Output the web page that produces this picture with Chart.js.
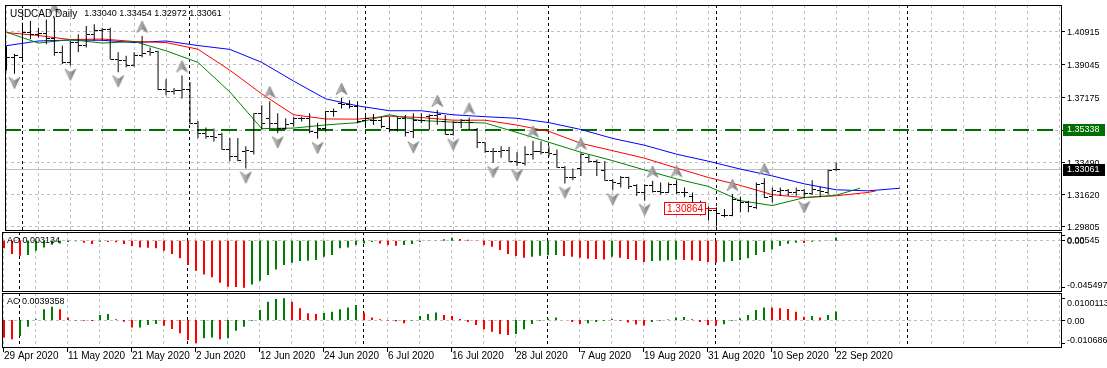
<!DOCTYPE html>
<html>
<head>
<meta charset="utf-8">
<title>USDCAD Daily</title>
<script src="https://cdn.jsdelivr.net/npm/chart.js@4.4.1/dist/chart.umd.min.js"></script>
<style>
    body { margin: 0; background: #ffffff; }
    #wrap { position: relative; width: 1107px; height: 368px; }
    #wrap canvas { position: absolute; left: 0; top: 0; }
</style>
</head>
<body>
<div id="wrap">
    <canvas id="priceChart" width="1107" height="368"></canvas>
    <canvas id="aoChart" width="1107" height="368"></canvas>
    <canvas id="acChart" width="1107" height="368"></canvas>
</div>
<script>

// DATA

const symbol = "USDCAD";
const period = "Daily";

const dateTicks = [
    "29 Apr 2020", "11 May 2020", "21 May 2020", "2 Jun 2020", "12 Jun 2020",
    "24 Jun 2020", "6 Jul 2020", "16 Jul 2020", "28 Jul 2020", "7 Aug 2020",
    "19 Aug 2020", "31 Aug 2020", "10 Sep 2020", "22 Sep 2020"
];

const priceTicks = [1.40915, 1.39045, 1.37175, 1.35305, 1.33490, 1.31620, 1.29805];
const aoTicks = [0.00545, 0, -0.045497];
const acTicks = [0.0100113, 0, -0.010686];

const opens = [
    1.3881, 1.3947, 1.3947, 1.4088, 1.4078, 1.4082, 1.4054, 1.3975, 1.3919, 1.4031,
    1.4016, 1.4078, 1.4097, 1.4107, 1.3937, 1.3928, 1.3900, 1.3956, 1.3980, 1.3979,
    1.3764, 1.3753, 1.3759, 1.3764, 1.3571, 1.3514, 1.3496, 1.3508, 1.3420, 1.3382,
    1.3410, 1.3410, 1.3627, 1.3595, 1.3571, 1.3542, 1.3567, 1.3599, 1.3599, 1.3520,
    1.3542, 1.3636, 1.3683, 1.3678, 1.3665, 1.3584, 1.3589, 1.3589, 1.3542, 1.3533,
    1.3599, 1.3523, 1.3589, 1.3609, 1.3614, 1.3580, 1.3505, 1.3577, 1.3584, 1.3533,
    1.3458, 1.3411, 1.3411, 1.3415, 1.3355, 1.3340, 1.3392, 1.3411, 1.3402, 1.3392,
    1.3321, 1.3261, 1.3313, 1.3374, 1.3355, 1.3302, 1.3242, 1.3227, 1.3261, 1.3213,
    1.3176, 1.3213, 1.3181, 1.3176, 1.3223, 1.3176, 1.3151, 1.3119, 1.3082, 1.3072,
    1.3044, 1.3044, 1.3129, 1.3119, 1.3091, 1.3227, 1.3151, 1.3181, 1.3185, 1.3176,
    1.3185, 1.3170, 1.3189, 1.3176, 1.33040
];

const highs = [
    1.4013, 1.3966, 1.4144, 1.4154, 1.4116, 1.4163, 1.4175, 1.4013, 1.4041, 1.4078,
    1.4125, 1.4135, 1.4116, 1.4116, 1.3975, 1.3956, 1.3975, 1.4069, 1.4003, 1.3984,
    1.3821, 1.3772, 1.3843, 1.3806, 1.3584, 1.3547, 1.3540, 1.3516, 1.3486, 1.3486,
    1.3439, 1.3627, 1.3674, 1.3696, 1.3627, 1.3599, 1.3608, 1.3608, 1.3627, 1.3574,
    1.3640, 1.3655, 1.3715, 1.3702, 1.3696, 1.3618, 1.3623, 1.3608, 1.3608, 1.3608,
    1.3618, 1.3627, 1.3627, 1.3622, 1.3646, 1.3618, 1.3580, 1.3595, 1.3603, 1.3543,
    1.3462, 1.3430, 1.3439, 1.3436, 1.3406, 1.3439, 1.3471, 1.3468, 1.3439, 1.3421,
    1.3327, 1.3313, 1.3402, 1.3389, 1.3364, 1.3355, 1.3251, 1.3270, 1.3265, 1.3223,
    1.3223, 1.3242, 1.3232, 1.3232, 1.3245, 1.3204, 1.3176, 1.3129, 1.3095, 1.3091,
    1.3082, 1.3166, 1.3151, 1.3129, 1.3232, 1.3257, 1.3204, 1.3204, 1.3195, 1.3204,
    1.3195, 1.3245, 1.3208, 1.3307, 1.33454
];

const lows = [
    1.3872, 1.3853, 1.3937, 1.4050, 1.4060, 1.4022, 1.3956, 1.3909, 1.3900, 1.3975,
    1.4003, 1.4041, 1.4041, 1.3934, 1.3862, 1.3890, 1.3895, 1.3947, 1.3956, 1.3759,
    1.3731, 1.3734, 1.3712, 1.3565, 1.3486, 1.3482, 1.3467, 1.3420, 1.3354, 1.3354,
    1.3313, 1.3392, 1.3533, 1.3542, 1.3514, 1.3533, 1.3552, 1.3580, 1.3514, 1.3482,
    1.3523, 1.3608, 1.3655, 1.3655, 1.3571, 1.3552, 1.3561, 1.3542, 1.3520, 1.3523,
    1.3495, 1.3486, 1.3571, 1.3533, 1.3562, 1.3505, 1.3501, 1.3543, 1.3533, 1.3430,
    1.3402, 1.3345, 1.3374, 1.3351, 1.3327, 1.3330, 1.3364, 1.3392, 1.3383, 1.3317,
    1.3227, 1.3246, 1.3270, 1.3345, 1.3270, 1.3242, 1.3189, 1.3204, 1.3195, 1.3157,
    1.3129, 1.3176, 1.3166, 1.3172, 1.3166, 1.3148, 1.3110, 1.3044, 1.3016, 1.2982,
    1.3035, 1.3040, 1.3063, 1.3063, 1.3082, 1.3144, 1.3119, 1.3157, 1.3157, 1.3157,
    1.3144, 1.3163, 1.3148, 1.3166, 1.32972
];

const closes = [
    1.3947, 1.3956, 1.4088, 1.4078, 1.4082, 1.4054, 1.3975, 1.3919, 1.4031, 1.4016,
    1.4078, 1.4097, 1.4107, 1.3937, 1.3928, 1.3900, 1.3956, 1.3966, 1.3975, 1.3764,
    1.3749, 1.3759, 1.3764, 1.3571, 1.3514, 1.3496, 1.3492, 1.3420, 1.3382, 1.3358,
    1.3414, 1.3627, 1.3571, 1.3571, 1.3542, 1.3561, 1.3595, 1.3599, 1.3523, 1.3542,
    1.3636, 1.3640, 1.3678, 1.3665, 1.3580, 1.3595, 1.3589, 1.3552, 1.3533, 1.3599,
    1.3520, 1.3589, 1.3584, 1.3614, 1.3618, 1.3509, 1.3577, 1.3584, 1.3577, 1.3458,
    1.3411, 1.3411, 1.3415, 1.3355, 1.3345, 1.3392, 1.3411, 1.3402, 1.3396, 1.3321,
    1.3261, 1.3261, 1.3392, 1.3355, 1.3345, 1.3246, 1.3233, 1.3261, 1.3208, 1.3176,
    1.3213, 1.3181, 1.3176, 1.3223, 1.3176, 1.3176, 1.3119, 1.3082, 1.3072, 1.3054,
    1.3044, 1.3138, 1.3119, 1.3095, 1.3223, 1.3148, 1.3185, 1.3185, 1.3176, 1.3185,
    1.3170, 1.3195, 1.3181, 1.3302, 1.33061
];

// alligator lines, [bar, price]
const jaw = [
    [0, 1.4013], [4, 1.4040], [8, 1.4045], [12, 1.4044], [16, 1.4031], [20, 1.4040],
    [24, 1.4014], [28, 1.3992], [32, 1.3918], [36, 1.3811], [40, 1.3710], [44, 1.3670],
    [48, 1.3642], [52, 1.3642], [56, 1.3619], [60, 1.3608], [64, 1.3599], [68, 1.3574],
    [72, 1.3535], [76, 1.3484], [80, 1.3445], [84, 1.3394], [88, 1.3354], [92, 1.3309],
    [96, 1.3270], [100, 1.3225], [104, 1.3191], [108, 1.3185], [112, 1.3200]
];

const teeth = [
    [0, 1.4088], [4, 1.4071], [8, 1.4048], [12, 1.4051], [16, 1.4037], [20, 1.4031],
    [24, 1.3993], [28, 1.3873], [32, 1.3738], [36, 1.3619], [40, 1.3595], [44, 1.3594],
    [48, 1.3611], [52, 1.3603], [56, 1.3588], [60, 1.3588], [64, 1.3560], [68, 1.3524],
    [72, 1.3456], [76, 1.3414], [80, 1.3371], [84, 1.3315], [88, 1.3261], [92, 1.3216],
    [96, 1.3163], [100, 1.3147], [104, 1.3157], [108, 1.3176], [109, 1.3185]
];

const lips = [
    [0, 1.4090], [4, 1.4028], [8, 1.4048], [12, 1.4028], [16, 1.4037], [20, 1.3984],
    [24, 1.3918], [28, 1.3749], [32, 1.3540], [36, 1.3543], [40, 1.3561], [44, 1.3574],
    [48, 1.3619], [52, 1.3586], [56, 1.3577], [60, 1.3572], [64, 1.3518], [68, 1.3462],
    [72, 1.3405], [76, 1.3357], [80, 1.3304], [84, 1.3253], [88, 1.3210], [92, 1.3129],
    [96, 1.3101], [100, 1.3146], [104, 1.3160], [107, 1.3200]
];

const fractalUp = [6, 17, 22, 33, 42, 54, 58, 66, 72, 81, 84, 91, 95];
const fractalDown = [1, 8, 14, 30, 34, 39, 51, 56, 61, 64, 70, 76, 80, 89, 100];

const ao = [
    -0.0074, -0.0129, -0.0145, -0.0139, -0.0097, -0.0065, -0.0039, -0.0026, -0.0013, -0.0006,
    -0.0019, -0.0032, -0.0010, -0.0013, -0.0016, -0.0032, -0.0052, -0.0065, -0.0068, -0.0074,
    -0.0097, -0.0129, -0.0171, -0.0236, -0.0291, -0.0326, -0.0355, -0.0407, -0.0446, -0.0449,
    -0.045497, -0.0423, -0.0388, -0.0333, -0.0278, -0.0236, -0.0213, -0.0197, -0.0194, -0.0187,
    -0.0155, -0.0139, -0.0074, -0.0065, -0.0042, -0.0026, -0.0013, -0.0026, -0.0042, -0.0048,
    -0.0042, -0.0032, -0.0013, -0.0003, 0.0003, 0.0013, 0.0029, 0.0016, 0.0010, -0.0003,
    -0.0042, -0.0058, -0.0090, -0.0129, -0.0149, -0.0165, -0.0155, -0.0145, -0.0142, -0.0139,
    -0.0149, -0.0155, -0.0165, -0.0174, -0.0178, -0.0181, -0.0155, -0.0165, -0.0178, -0.0187,
    -0.0207, -0.0197, -0.0194, -0.0190, -0.0184, -0.0187, -0.0190, -0.0197, -0.0207, -0.0213,
    -0.0203, -0.0197, -0.0187, -0.0171, -0.0139, -0.0110, -0.0084, -0.0052, -0.0029, -0.0019,
    -0.0023, -0.0010, -0.0006, -0.0003, 0.003134
];

const ac = [
    -0.0080, -0.0089, -0.0074, -0.0031, 0.0003, 0.0049, 0.0061, 0.0049, 0.0012, -0.0002,
    -0.0003, -0.0005, 0.0023, 0.0028, 0.0003, -0.0008, -0.0035, -0.0034, -0.0023, -0.0018,
    -0.0026, -0.0041, -0.0061, -0.0092, -0.010686, -0.0084, -0.0080, -0.0089, -0.0084, -0.0049,
    -0.0031, -0.0003, 0.0046, 0.0084, 0.0097, 0.0100113, 0.0084, 0.0054, 0.0031, 0.0028,
    0.0032, 0.0038, 0.0049, 0.0058, 0.0069, 0.0034, 0.0012, 0.0003, -0.0002, -0.0006,
    -0.0015, -0.0002, 0.0018, 0.0028, 0.0034, 0.0023, 0.0018, 0.0005, -0.0009, -0.0023,
    -0.0043, -0.0054, -0.0064, -0.0069, -0.0064, -0.0043, -0.0018, -0.0003, 0.0006, 0.0012,
    0.0000, -0.0009, -0.0018, -0.0015, -0.0009, -0.0003, 0.0005, -0.0003, -0.0012, -0.0021,
    -0.0025, -0.0009, -0.0003, 0.0002, 0.0012, 0.0014, 0.0003, -0.0009, -0.0023, -0.0025,
    -0.0020, -0.0003, 0.0008, 0.0023, 0.0046, 0.0058, 0.0057, 0.0054, 0.0051, 0.0038,
    0.0015, 0.0018, 0.0012, 0.0023, 0.0039358
];

const monthStarts = [2, 23, 45, 68, 89, 113];
const levelLine = 1.35338;
const markPrice = 1.30864;
const markBar = 88;


// LOOK

const FONT = '10px "Liberation Sans", Arial, sans-serif';
const NUM_FONT = '9px "Liberation Sans", Arial, sans-serif';
const GRID = "#c0c0c0";
const UP = "#008000";
const DOWN = "#ff0000";
const gridStep = 4;
const dateStep = 8;
const arrowGap = 9;

// price bars sit on a pixel centre, histogram bars (2px) on a pixel edge
const priceRange = { min: -0.1875, max: 132.3125 };
const histRange = { min: -0.25, max: 132.25 };

const crisp = (v) => Math.floor(v) + 0.5;
const crispX = (v) => Math.ceil(v - 1) + 0.5;

function strokeLine(ctx, x1, y1, x2, y2, color, dash, width) {
    ctx.save();
    ctx.strokeStyle = color;
    ctx.lineWidth = width || 1;
    ctx.setLineDash(dash || []);
    ctx.beginPath();
    ctx.moveTo(x1, y1);
    ctx.lineTo(x2, y2);
    ctx.stroke();
    ctx.restore();
}

function tickImage(left) {
    const c = document.createElement("canvas");
    c.width = 7;
    c.height = 1;
    const g = c.getContext("2d");
    g.fillStyle = "#000000";
    g.fillRect(left ? 0 : 4, 0, 3, 1);
    return c;
}

function arrowImage(up) {
    const c = document.createElement("canvas");
    c.width = 13;
    c.height = 38;
    const g = c.getContext("2d");
    const cy = up ? 19 - arrowGap : 19 + arrowGap;
    const d = up ? 1 : -1;
    g.beginPath();
    g.moveTo(6.5, cy - 6 * d);
    g.lineTo(12, cy + 5.5 * d);
    g.lineTo(6.5, cy + 2 * d);
    g.lineTo(1, cy + 5.5 * d);
    g.closePath();
    const grad = g.createLinearGradient(0, 0, 13, 0);
    grad.addColorStop(0, "#e4e4e4");
    grad.addColorStop(0.45, "#a8a8a8");
    grad.addColorStop(1, "#606060");
    g.fillStyle = grad;
    g.fill();
    g.strokeStyle = "#8c8c8c";
    g.lineWidth = 0.8;
    g.stroke();
    return c;
}

function barColors(values) {
    return values.map((v, i) => (i > 0 && v > values[i - 1] ? UP : DOWN));
}

// grid, frame and right-hand labels of one pane
function panePlugin(levels, labels, before, after) {
    return {
        id: "pane",
        beforeDatasetsDraw(chart) {
            const { ctx, chartArea: a, scales: { x, y } } = chart;
            ctx.save();
            ctx.beginPath();
            ctx.rect(a.left, a.top, a.right - a.left, a.bottom - a.top);
            ctx.clip();
            for (let i = 0; i <= x.max; i += gridStep) {
                const px = crispX(x.getPixelForValue(i));
                strokeLine(ctx, px, a.top, px, a.bottom, GRID, [3, 3]);
            }
            levels.forEach((v) => {
                const py = crisp(y.getPixelForValue(v));
                strokeLine(ctx, a.left, py, a.right, py, GRID, [3, 3]);
            });
            monthStarts.forEach((i) => {
                const px = crispX(x.getPixelForValue(i));
                strokeLine(ctx, px, a.top, px, a.bottom, "#000000", [3, 3]);
            });
            if (before) before(chart);
            ctx.restore();
        },
        afterDraw(chart) {
            const { ctx, chartArea: a, scales: { y } } = chart;
            ctx.save();
            ctx.strokeStyle = "#000000";
            ctx.lineWidth = 1;
            ctx.strokeRect(a.left + 0.5, a.top + 0.5, a.right - a.left - 1, a.bottom - a.top - 1);
            ctx.font = NUM_FONT;
            ctx.fillStyle = "#000000";
            ctx.textBaseline = "alphabetic";
            labels.forEach((l) => {
                const py = y.getPixelForValue(l.value);
                strokeLine(ctx, a.right, crisp(py), a.right + 3, crisp(py), "#000000");
                const shift = l.pos === "top" ? 8 : l.pos === "bottom" ? 0 : 3.5;
                ctx.fillText(l.text, a.right + 5, py + shift);
            });
            if (after) after(chart);
            ctx.restore();
        }
    };
}

function sideLabels(ticks) {
    return ticks.map((v, i) => ({
        value: v,
        text: v === 0 ? "0.00" : String(v),
        pos: i === 0 ? "top" : i === ticks.length - 1 ? "bottom" : "mid"
    }));
}

const baseOptions = (padding, xRange, yMin, yMax) => ({
    responsive: false,
    animation: false,
    events: [],
    devicePixelRatio: 1,
    layout: { padding: padding },
    plugins: { legend: { display: false }, tooltip: { enabled: false } },
    scales: {
        x: { type: "linear", min: xRange.min, max: xRange.max, offset: false, display: false },
        y: { type: "linear", min: yMin, max: yMax, display: false }
    }
});


// PRICE PANE

const last = closes.length - 1;

const pricePane = panePlugin(
    priceTicks,
    priceTicks.map((v) => ({ value: v, text: v.toFixed(5), pos: "mid" })),
    (chart) => {
        const { ctx, chartArea: a, scales: { y } } = chart;
        const cy = crisp(y.getPixelForValue(closes[last]));
        strokeLine(ctx, a.left, cy, a.right, cy, "#c0c0c0");
        const ly = Math.floor(y.getPixelForValue(levelLine)) + 1;
        strokeLine(ctx, a.left, ly, a.right, ly, "#006e00", [16, 8], 2);
    },
    (chart) => {
        const { ctx, chartArea: a, scales: { x, y } } = chart;

        // title
        ctx.textBaseline = "middle";
        ctx.fillStyle = "#000000";
        ctx.font = FONT;
        const head = symbol + "," + period;
        ctx.fillText(head, a.left + 5, a.top + 9);
        const w = ctx.measureText(head).width;
        const ohlc = [opens[last], highs[last], lows[last], closes[last]].map((v) => v.toFixed(5)).join(" ");
        ctx.font = NUM_FONT;
        ctx.fillText(ohlc, a.left + 12 + w, a.top + 9);

        // level and last price boxes
        [[levelLine, "#006e00"], [closes[last], "#000000"]].forEach(([v, col]) => {
            const py = Math.round(y.getPixelForValue(v));
            ctx.fillStyle = col;
            ctx.fillRect(a.right + 1, py - 6, 42, 12);
            ctx.fillStyle = "#ffffff";
            ctx.fillText(v.toFixed(5), a.right + 5, py);
        });

        // price mark
        ctx.font = FONT;
        const my = crisp(y.getPixelForValue(markPrice));
        const bx = x.getPixelForValue(markBar);
        const text = markPrice.toFixed(5);
        const tw = ctx.measureText(text).width;
        const right = Math.round(bx - 2.5);
        const left = right - Math.round(tw) - 6;
        ctx.fillStyle = "#ffffff";
        ctx.fillRect(left, my - 6, right - left, 12);
        ctx.strokeStyle = "#ff0000";
        ctx.lineWidth = 1;
        ctx.strokeRect(left + 0.5, my - 6, right - left - 1, 12);
        strokeLine(ctx, right, my, bx + 7.5, my, "#ff0000");
        ctx.fillStyle = "#ff0000";
        ctx.fillText(text, left + 3, my + 0.5);
    }
);

new Chart(document.getElementById("priceChart"), {
    type: "bar",
    data: {
        datasets: [
            {
                type: "line",
                data: jaw.map(([i, v]) => ({ x: i, y: v })),
                borderColor: "#0000ff",
                borderWidth: 1,
                pointRadius: 0,
                order: 5
            },
            {
                type: "line",
                data: teeth.map(([i, v]) => ({ x: i, y: v })),
                borderColor: "#ff0000",
                borderWidth: 1,
                pointRadius: 0,
                order: 4
            },
            {
                type: "line",
                data: lips.map(([i, v]) => ({ x: i, y: v })),
                borderColor: "#008000",
                borderWidth: 1,
                pointRadius: 0,
                order: 3
            },
            {
                data: lows.map((l, i) => ({ x: i, y: [l, highs[i]] })),
                backgroundColor: "#000000",
                barThickness: 1,
                borderWidth: 0,
                inflateAmount: 0,
                order: 2
            },
            {
                type: "line",
                showLine: false,
                data: opens.map((v, i) => ({ x: i, y: v })),
                pointStyle: tickImage(true),
                pointRadius: 3,
                order: 1
            },
            {
                type: "line",
                showLine: false,
                data: closes.map((v, i) => ({ x: i, y: v })),
                pointStyle: tickImage(false),
                pointRadius: 3,
                order: 1
            },
            {
                type: "line",
                showLine: false,
                data: fractalUp.map((i) => ({ x: i, y: highs[i] })),
                pointStyle: arrowImage(true),
                pointRadius: 3,
                order: 0
            },
            {
                type: "line",
                showLine: false,
                data: fractalDown.map((i) => ({ x: i, y: lows[i] })),
                pointStyle: arrowImage(false),
                pointRadius: 3,
                order: 0
            }
        ]
    },
    options: baseOptions({ left: 2, right: 45, top: 2, bottom: 137 }, priceRange, 1.295593, 1.42452),
    plugins: [pricePane]
});


// AO PANE

const aoPane = panePlugin([0], sideLabels(aoTicks), null, (chart) => {
    const { ctx, chartArea: a } = chart;
    ctx.textBaseline = "middle";
    ctx.fillStyle = "#000000";
    ctx.fillText("AO " + ao[last].toFixed(6), a.left + 5, a.top + 9);
});

new Chart(document.getElementById("aoChart"), {
    type: "bar",
    data: {
        datasets: [{
            data: ao.map((v, i) => ({ x: i, y: v })),
            backgroundColor: barColors(ao),
            barThickness: 2,
            borderWidth: 0,
            inflateAmount: 0
        }]
    },
    options: baseOptions({ left: 2, right: 45, top: 232, bottom: 76 }, histRange, -0.049661, 0.008422),
    plugins: [aoPane]
});


// AC PANE

const acPane = panePlugin([0], sideLabels(acTicks), null, (chart) => {
    const { ctx, chartArea: a, scales: { x } } = chart;
    ctx.textBaseline = "middle";
    ctx.fillStyle = "#000000";
    ctx.fillText("AC " + ac[last].toFixed(7), a.left + 5, a.top + 9);

    // date axis
    ctx.font = FONT;
    dateTicks.forEach((label, k) => {
        const px = crispX(x.getPixelForValue(k * dateStep));
        strokeLine(ctx, px, a.bottom, px, a.bottom + 4, "#000000");
        ctx.fillText(label, px + 0.5, a.bottom + 8);
    });
});

new Chart(document.getElementById("acChart"), {
    type: "bar",
    data: {
        datasets: [{
            data: ac.map((v, i) => ({ x: i, y: v })),
            backgroundColor: barColors(ac),
            barThickness: 2,
            borderWidth: 0,
            inflateAmount: 0
        }]
    },
    options: baseOptions({ left: 2, right: 45, top: 293, bottom: 20 }, histRange, -0.012885, 0.012425),
    plugins: [acPane]
});

</script>
</body>
</html>
